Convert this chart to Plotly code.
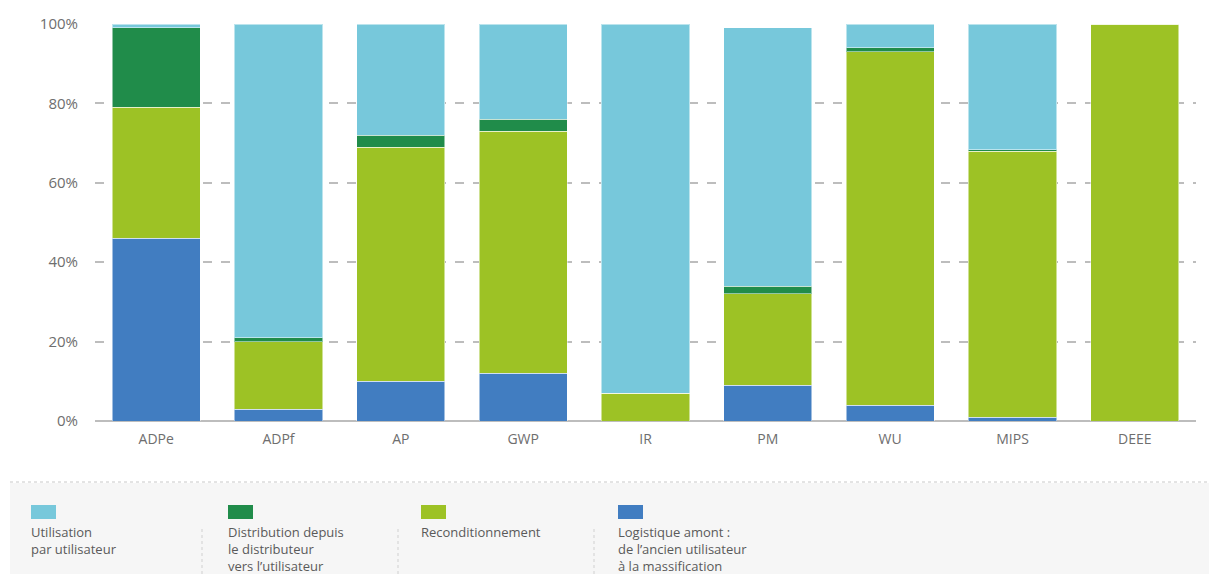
import plotly.graph_objects as go

categories = ["ADPe", "ADPf", "AP", "GWP", "IR", "PM", "WU", "MIPS", "DEEE"]

series_names = [
    "Logistique amont :<br>de l’ancien utilisateur<br>à la massification",
    "Reconditionnement",
    "Distribution depuis<br>le distributeur<br>vers l’utilisateur",
    "Utilisation<br>par utilisateur",
]
logistique = [46, 3, 10, 12, 0, 9, 4, 1, 0]
reconditionnement = [33, 17, 59, 61, 7, 23, 89, 67, 100]
distribution = [20, 1, 3, 3, 0, 2, 1, 0.3, 0]
utilisation = [1, 79, 28, 24, 93, 65, 6, 31.7, 0]
series_values = [logistique, reconditionnement, distribution, utilisation]
colors = ["#417DC1", "#9DC225", "#208C4A", "#77C8DB"]

y_tickvals = [0, 20, 40, 60, 80, 100]
y_ticktext = ["0%", "20%", "40%", "60%", "80%", "100%"]

W, H = 1209, 574
L, R, T, B = 95, 1196, 24, 421

fig = go.Figure()
for name, vals, col in zip(series_names, series_values, colors):
    fig.add_trace(go.Bar(
        x=categories, y=vals, name=name.replace("<br>", " "),
        marker=dict(color=col, line=dict(color="rgba(255,255,255,0.5)", width=1)),
        hovertemplate="%{x}: %{y}%<extra></extra>",
    ))

def px(x):
    return (x - L) / (R - L)

def py(y):
    return (B - y) / (B - T)

shapes = [
    dict(type="rect", xref="paper", yref="paper", x0=px(10), x1=px(1209), y0=py(574), y1=py(483),
         fillcolor="#F6F6F6", line=dict(width=0), layer="below"),
    dict(type="line", xref="paper", yref="paper", x0=px(10), x1=px(1209), y0=py(482), y1=py(482),
         line=dict(color="#C8C8C8", width=1, dash="dot")),
]
annotations = []
legend_order = [3, 2, 1, 0]
col_x = [31, 228, 421, 618]
sep_x = [202, 398, 594]
for cx, idx in zip(col_x, legend_order):
    shapes.append(dict(type="rect", xref="paper", yref="paper",
                       x0=px(cx), x1=px(cx + 25), y0=py(519), y1=py(505),
                       fillcolor=colors[idx], line=dict(width=0)))
    annotations.append(dict(xref="paper", yref="paper", x=px(cx - 2), y=py(521),
                            text=series_names[idx], showarrow=False,
                            xanchor="left", yanchor="top", align="left",
                            font=dict(family="Open Sans", size=13, color="#5a5a5a")))
for sx in sep_x:
    shapes.append(dict(type="line", xref="paper", yref="paper", x0=px(sx), x1=px(sx),
                       y0=py(574), y1=py(527), line=dict(color="#D0D0D0", width=1, dash="dot")))

fig.update_layout(
    barmode="stack",
    bargap=0.28,
    width=W, height=H,
    margin=dict(l=L, r=W - R, t=T, b=H - B, pad=0),
    paper_bgcolor="white", plot_bgcolor="white",
    showlegend=False,
    font=dict(family="Open Sans", color="#6e6e6e"),
    xaxis=dict(showgrid=False, showline=False, ticks="", tickfont=dict(size=14, color="#6e6e6e"),
               ticklabelstandoff=8),
    yaxis=dict(range=[0, 100], tickvals=y_tickvals, ticktext=y_ticktext,
               showgrid=True, gridcolor="#BDBDBD", griddash="dash", gridwidth=1.5,
               zeroline=True, zerolinecolor="#BDBDBD", zerolinewidth=2,
               showline=False, ticks="", tickfont=dict(size=15, color="#6e6e6e"),
               ticklabelstandoff=16),
    shapes=shapes,
    annotations=annotations,
)

fig.write_html("out.html")
